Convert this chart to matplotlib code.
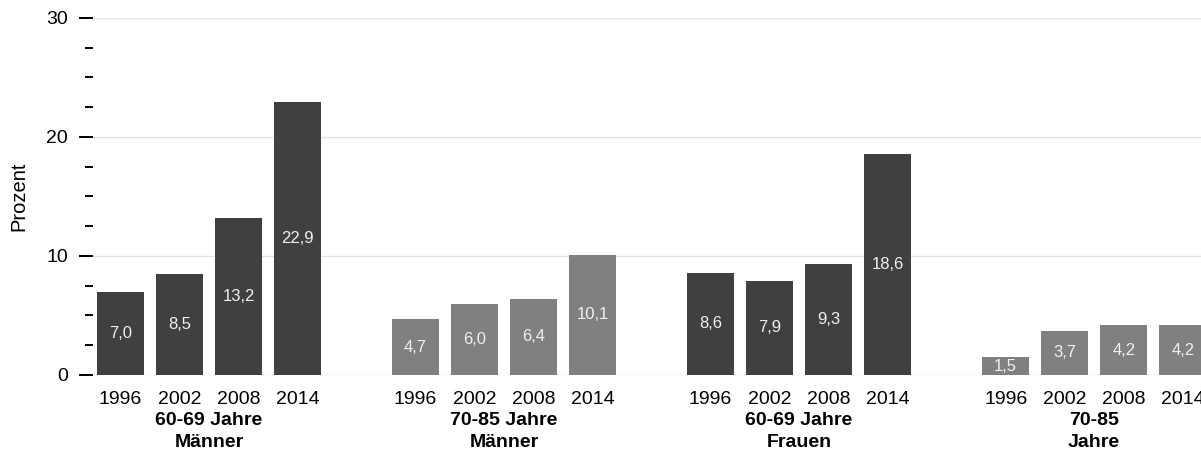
import numpy as np
import matplotlib
matplotlib.use("Agg")
import matplotlib.pyplot as plt
from matplotlib.ticker import MultipleLocator

plt.rcParams['font.family'] = ['Liberation Sans', 'DejaVu Sans']

years = ['1996', '2002', '2008', '2014']
groups = ['60-69 Jahre\nMänner', '70-85 Jahre\nMänner', '60-69 Jahre\nFrauen', '70-85\nJahre']
men_60 = [7.0, 8.5, 13.2, 22.9]
men_70 = [4.7, 6.0, 6.4, 10.1]
women_60 = [8.6, 7.9, 9.3, 18.6]
women_70 = [1.5, 3.7, 4.2, 4.2]
values = [men_60, men_70, women_60, women_70]
colors = ['#404040', '#808080', '#404040', '#808080']

fig = plt.figure(figsize=(12.01, 4.66), dpi=100)
ax = fig.add_axes([0.0774, 0.1953, 0.9226, 0.7661])

ticks = []
ticklabels = []
for g in range(len(groups)):
    x = np.arange(len(years)) + g * 5
    ax.bar(x, values[g], width=0.8, color=colors[g], zorder=2)
    for xi, v in zip(x, values[g]):
        ax.text(xi, v / 2, f"{v:.1f}".replace('.', ','), ha='center', va='center',
                color='#f0f0f0', fontsize=12, zorder=3)
    ticks.extend(x)
    ticklabels.extend(years)
    ax.text(x.mean(), -0.103, groups[g], transform=ax.get_xaxis_transform(),
            ha='center', va='top', fontsize=14, fontweight='bold', linespacing=1.38)

ax.set_xlim(-0.466, 18.31)
ax.set_ylim(0, 30)
ax.set_xticks(ticks)
ax.set_xticklabels(ticklabels, fontsize=14)
ax.tick_params(axis='x', length=0, pad=11.5)

ax.yaxis.set_major_locator(MultipleLocator(10))
ax.yaxis.set_minor_locator(MultipleLocator(2.5))
ax.tick_params(axis='y', which='major', length=10, width=1.4, pad=8, labelsize=14)
ax.tick_params(axis='y', which='minor', length=6, width=1.4)
ax.grid(axis='y', which='major', color='#e2e2e2', linewidth=1, zorder=0)
ax.set_axisbelow(True)

for s in ax.spines.values():
    s.set_visible(False)

ax.set_ylabel('Prozent', fontsize=14.5)
ax.yaxis.set_label_coords(-0.0587, 0.5)

fig.savefig('out.png', dpi=100)
